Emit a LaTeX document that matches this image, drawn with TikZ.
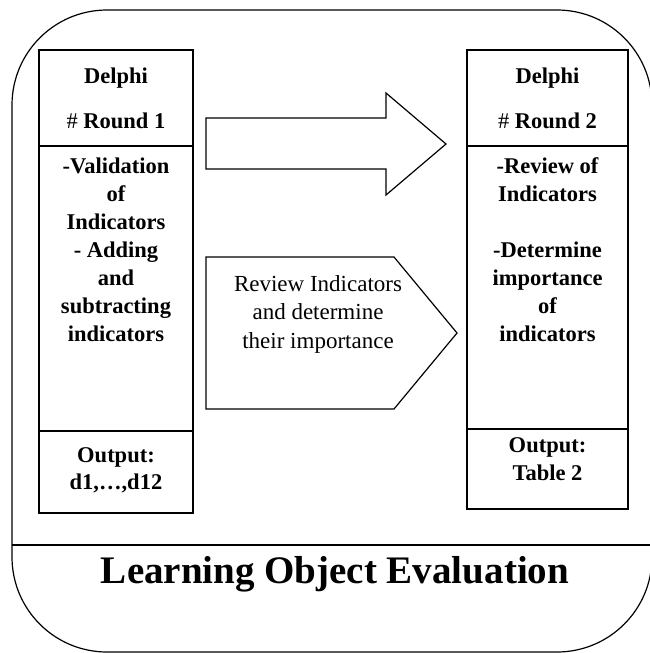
\documentclass[tikz,border=0pt]{standalone}
\usepackage{fontspec}
\setmainfont{Liberation Serif}
\tikzset{
  shapeline/.style={draw, line width=1.2pt, line join=miter},
  boldtext/.style={font=\fontsize{22.5}{28}\selectfont\bfseries, align=center, anchor=base, inner sep=0pt},
  plaintext/.style={font=\fontsize{23}{28.5}\selectfont, align=center, anchor=base, inner sep=0pt},
  titletext/.style={font=\fontsize{39}{42}\selectfont\bfseries, anchor=base, inner sep=0pt}
}
\begin{document}
\begin{tikzpicture}[x=1pt, y=-1pt]
\useasboundingbox (0,0) rectangle (650,653);
% outer rounded frame
\draw[line width=1.2pt, rounded corners=95pt] (300,10) -- (652,10) -- (652,652) -- (12,652) -- (12,10) -- cycle;
\draw[line width=1.6pt] (12,545) -- (652,545);
% left box
\draw[shapeline] (39,50) rectangle (193,513);
\draw[shapeline] (38,146) -- (193,146);
\draw[shapeline] (38,431) -- (193,431);
% right box
\draw[shapeline] (467,50) rectangle (628,509);
\draw[shapeline] (466,146) -- (628,146);
\draw[shapeline] (466,429) -- (628,429);
% block arrow
\draw[shapeline] (206,118) -- (386,118) -- (386,93) -- (446,144) -- (386,195) -- (386,169) -- (206,169) -- cycle;
% pentagon
\draw[shapeline] (206,257) -- (394,257) -- (457,333) -- (394,409) -- (206,409) -- cycle;
% texts (multi-line nodes: base anchor = last line's baseline)
\node[boldtext] (delphiA) at (116,83) {Delphi};
\node[boldtext] (roundA) at (116,128) {\textmd{\#} Round 1};
\node[boldtext] (bodyA) at (116,341) {-Validation\\of\\Indicators\\- Adding\\and\\subtracting\\indicators};
\node[boldtext, font=\fontsize{22.5}{27}\selectfont\bfseries] (outA) at (116,489) {Output:\\d1,…,d12};
\node[boldtext] (delphiB) at (547.5,83) {Delphi};
\node[boldtext] (roundB) at (547.5,128) {\textmd{\#} Round 2};
\node[boldtext] (bodyB) at (547.5,341) {-Review of\\Indicators\\[28pt]-Determine\\importance\\of\\indicators};
\node[boldtext] (outB) at (547.5,480) {Output:\\Table 2};
\node[plaintext] (review) at (318,348) {Review Indicators\\and determine\\their importance};
\node[titletext] (title) at (335,583) {Learning Object Evaluation};
\end{tikzpicture}
\end{document}
